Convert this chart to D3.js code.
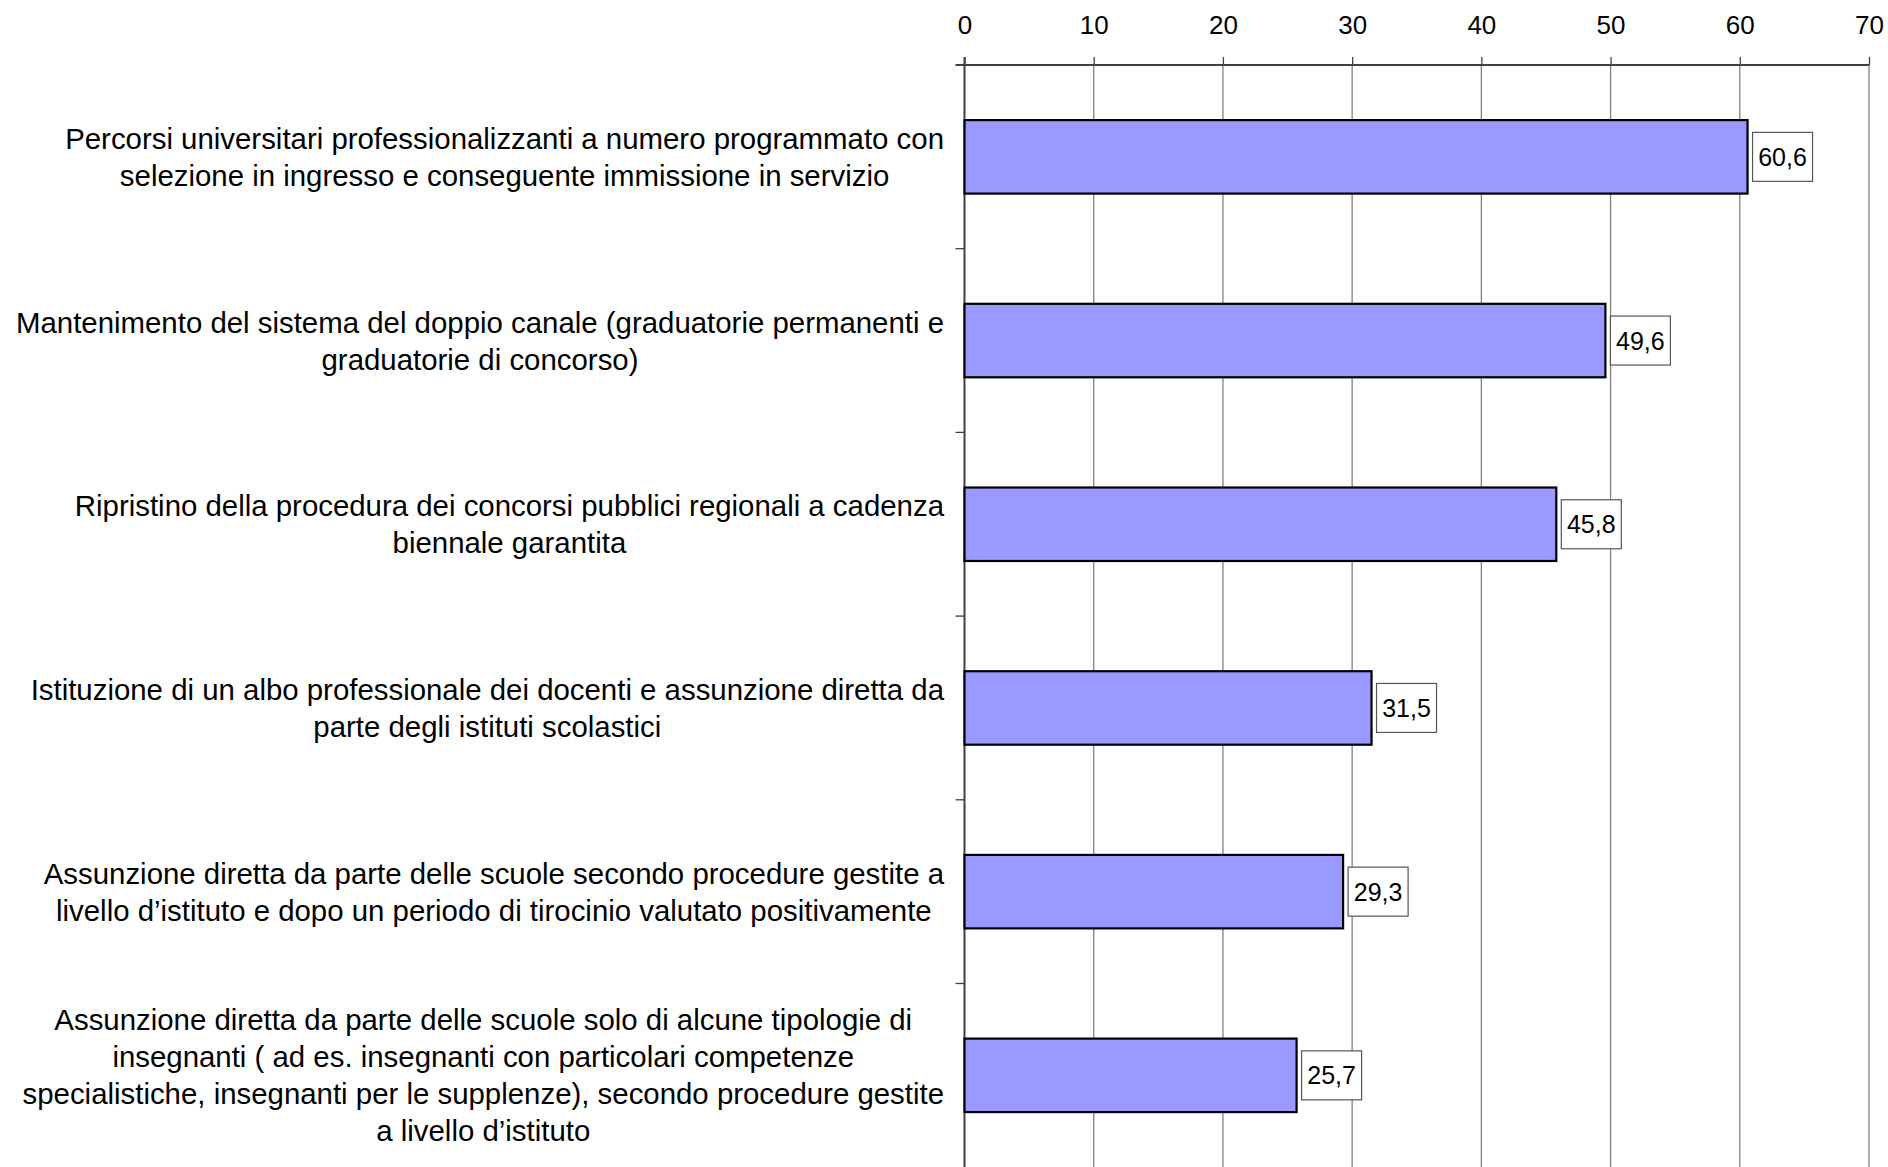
<!DOCTYPE html>
<html><head><meta charset="utf-8">
<script src="https://cdn.jsdelivr.net/npm/d3@7"></script>
<style>body{margin:0;background:#fff}svg{display:block}text{font-family:"Liberation Sans",Arial,sans-serif;fill:#000}</style>
</head><body>
<svg id="c" width="1888" height="1167"></svg>
<script>
const categories = [
  ["Percorsi universitari professionalizzanti a numero programmato con","selezione in ingresso e conseguente immissione in servizio"],
  ["Mantenimento del sistema del doppio canale (graduatorie permanenti e","graduatorie di concorso)"],
  ["Ripristino della procedura dei concorsi pubblici regionali a cadenza","biennale garantita"],
  ["Istituzione di un albo professionale dei docenti e assunzione diretta da","parte degli istituti scolastici"],
  ["Assunzione diretta da parte delle scuole secondo procedure gestite a","livello d\u2019istituto e dopo un periodo di tirocinio valutato positivamente"],
  ["Assunzione diretta da parte delle scuole solo di alcune tipologie di","insegnanti ( ad es. insegnanti con particolari competenze","specialistiche, insegnanti per le supplenze), secondo procedure gestite","a livello d\u2019istituto"]
];
const values = [60.6, 49.6, 45.8, 31.5, 29.3, 25.7];
const xTicks = [0,10,20,30,40,50,60,70];

(function(){
const svg = d3.select("#c");
const pL = 964.5, pR = 1869, pT = 65, pB = 1167;
const band = 183.7;
const x = d3.scaleLinear().domain([0,70]).range([pL,pR]);
const y = d3.scaleBand().domain(d3.range(values.length)).range([pT, pT + 6*band]).paddingInner(0.6).paddingOuter(0.3);
const fmt = v => d3.format(".1f")(v).replace(".", ",");

// gridlines
svg.append("g").selectAll("line").data(xTicks.slice(1)).join("line")
  .attr("x1", d=>x(d)).attr("x2", d=>x(d)).attr("y1", pT).attr("y2", pB)
  .attr("stroke", "#808080").attr("stroke-width", 1.3);

// top axis
const xa = svg.append("g").attr("transform", `translate(0,${pT})`)
  .call(d3.axisTop(x).tickValues(xTicks).tickSize(8).tickPadding(23));
xa.select(".domain").attr("stroke","#404040").attr("stroke-width",2).attr("d", `M${pL-9},0H${pR}`);
xa.selectAll(".tick line").attr("stroke","#404040").attr("stroke-width",1.3);
xa.selectAll(".tick text").attr("font-size", 26).attr("font-family","Liberation Sans, Arial, sans-serif").attr("fill","#000");

// left axis line and category ticks
svg.append("line").attr("x1", pL).attr("x2", pL).attr("y1", pT - 8).attr("y2", pB).attr("stroke","#404040").attr("stroke-width",2);
svg.append("g").selectAll("line").data(d3.range(1, values.length)).join("line")
  .attr("x1", pL-9).attr("x2", pL).attr("y1", d=>pT + d*band).attr("y2", d=>pT + d*band)
  .attr("stroke","#404040").attr("stroke-width",1.3);

// bars
svg.append("g").selectAll("rect").data(values).join("rect")
  .attr("x", x(0)).attr("y", (d,i)=>y(i)).attr("width", d=>x(d)-x(0)).attr("height", y.bandwidth())
  .attr("fill", "#9999FF").attr("stroke", "#000").attr("stroke-width", 2.2);

// value labels
const lab = svg.append("g").selectAll("g").data(values).join("g")
  .attr("transform", (d,i)=>`translate(${x(d)+5},${y(i)+y.bandwidth()/2})`);
lab.append("rect").attr("x",0).attr("y",-24.5).attr("width",60).attr("height",49)
  .attr("fill","#fff").attr("stroke","#555").attr("stroke-width",1.2);
lab.append("text").attr("x",30).attr("y",0).attr("dy","0.36em").attr("text-anchor","middle")
  .attr("font-size",25).text(d=>fmt(d));

// category labels
const lineH = 37, rightEdge = 944;
const cg = svg.append("g");
categories.forEach((lines,i)=>{
  const cy = y(i) + y.bandwidth()/2;
  const g = cg.append("g");
  const ts = lines.map((t,k)=> g.append("text").attr("font-size",29.4).attr("text-anchor","middle")
      .attr("y", cy + (k - (lines.length-1)/2)*lineH).attr("dy","0.36em").text(t));
  const maxW = d3.max(ts, t=>t.node().getComputedTextLength());
  ts.forEach(t=>t.attr("x", rightEdge - maxW/2));
});
})();
</script>
</body></html>
